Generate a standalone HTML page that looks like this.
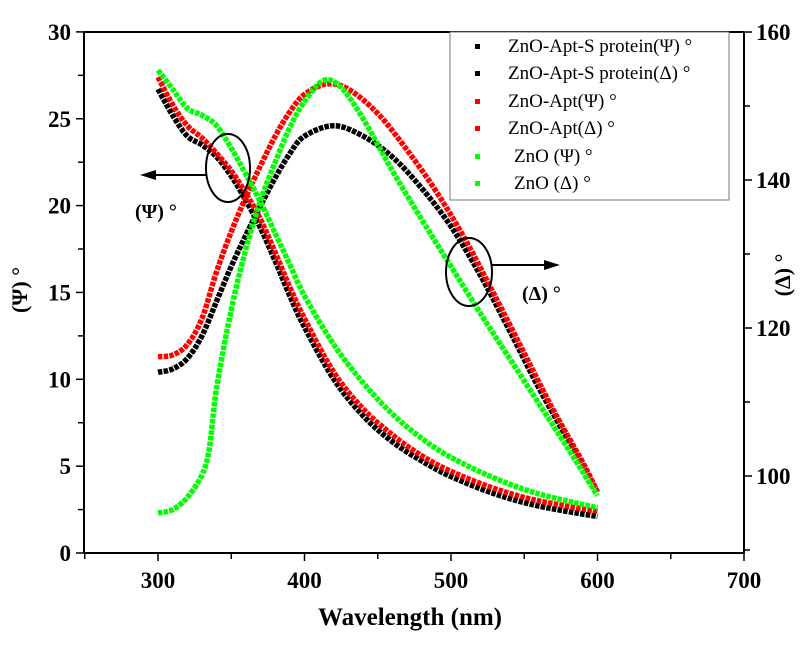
<!DOCTYPE html>
<html><head><style>body{margin:0;background:#fff}svg{display:block}</style></head><body>
<svg id="s" width="809" height="655" xmlns="http://www.w3.org/2000/svg" font-family="Liberation Serif, serif">
<rect width="809" height="655" fill="#fff"/>
<g id="curves"></g>
<g stroke="#000" stroke-width="2" fill="none">
<line x1="84" y1="32" x2="744" y2="32"/>
<line x1="84" y1="553" x2="744" y2="553"/>
<line x1="84" y1="32" x2="84" y2="553"/>
<line x1="744" y1="32" x2="744" y2="553"/>
</g>
<g id="ticks" stroke="#000" stroke-width="1.5"></g>
<g font-weight="bold" font-size="23" text-anchor="end" id="ly"></g>
<g font-weight="bold" font-size="23" text-anchor="start" id="ry"></g>
<g font-weight="bold" font-size="23" text-anchor="middle" id="bx"></g>
<text x="410" y="625" font-size="25" font-weight="bold" text-anchor="middle">Wavelength (nm)</text>
<text transform="translate(27,290) rotate(-90)" font-size="22" font-weight="bold" text-anchor="middle">(Ψ) °</text>
<text transform="translate(790,275) rotate(-90)" font-size="22" font-weight="bold" text-anchor="middle">(Δ) °</text>
<rect x="450" y="32" width="279" height="168" fill="#fff" stroke="#777" stroke-width="1"/>
<g font-size="19">
<rect x="475" y="44" width="5" height="5" fill="#000"/><text x="508" y="52">ZnO-Apt-S protein(Ψ) °</text>
<rect x="475" y="71" width="5" height="5" fill="#000"/><text x="508" y="79">ZnO-Apt-S protein(Δ) °</text>
<rect x="475" y="99" width="5" height="5" fill="#f00"/><text x="508" y="107">ZnO-Apt(Ψ) °</text>
<rect x="475" y="126" width="5" height="5" fill="#f00"/><text x="508" y="134">ZnO-Apt(Δ) °</text>
<rect x="475" y="154" width="5" height="5" fill="#0f0"/><text x="514" y="162">ZnO (Ψ) °</text>
<rect x="475" y="181" width="5" height="5" fill="#0f0"/><text x="514" y="189">ZnO (Δ) °</text>
</g>
<g stroke="#000" stroke-width="2" fill="none">
<ellipse cx="228" cy="168" rx="22" ry="34"/>
<ellipse cx="469" cy="272" rx="23" ry="34"/>
<line x1="206" y1="175" x2="150" y2="175"/>
<line x1="491" y1="265" x2="548" y2="265"/>
</g>
<polygon points="140,175 156,170 156,180" fill="#000"/>
<polygon points="560,265 544,260 544,270" fill="#000"/>
<text x="135" y="218" font-size="20" font-weight="bold">(Ψ) °</text>
<text x="522" y="300" font-size="20" font-weight="bold">(Δ) °</text>
</svg>
<script>
const X=w=>158+(w-300)*1.465, Y=v=>553-v*17.37;
const D={
bP:[[300,26.7],[310,25.2],[320,24.0],[330,23.5],[340,22.8],[350,21.7],[360,20.3],[370,18.7],[380,16.8],[390,14.8],[400,13.0],[420,10.0],[440,7.9],[460,6.4],[480,5.3],[500,4.4],[530,3.4],[560,2.7],[600,2.1]],
rP:[[300,27.4],[310,25.8],[320,24.6],[330,23.9],[340,23.0],[350,22.0],[360,20.7],[370,19.2],[380,17.3],[390,15.3],[400,13.5],[420,10.4],[440,8.3],[460,6.8],[480,5.6],[500,4.7],[530,3.7],[560,3.0],[600,2.4]],
gP:[[300,27.8],[310,26.7],[320,25.6],[330,25.2],[340,24.6],[350,23.3],[360,21.8],[370,20.2],[380,18.4],[390,16.6],[400,14.8],[420,12.0],[440,9.8],[460,8.0],[480,6.6],[500,5.5],[530,4.3],[560,3.4],[600,2.6]],
bD:[[300,10.4],[310,10.6],[320,11.2],[330,12.5],[340,14.5],[350,16.5],[360,18.3],[370,20.0],[380,21.6],[390,23.0],[400,24.0],[420,24.6],[440,24.0],[460,22.8],[480,21.0],[500,18.8],[520,16.0],[540,12.8],[560,9.5],[580,6.5],[600,3.5]],
rD:[[300,11.3],[310,11.4],[320,12.0],[330,13.5],[340,16.2],[350,18.5],[360,20.5],[370,22.3],[380,24.0],[390,25.4],[400,26.4],[415,27.0],[430,26.7],[450,25.3],[470,23.2],[490,20.8],[510,18.0],[530,14.8],[550,11.5],[570,8.2],[590,5.2],[600,3.5]],
gD:[[300,2.3],[310,2.5],[320,3.2],[330,4.5],[335,6.0],[340,9.5],[350,14.0],[360,17.5],[370,20.3],[380,22.5],[390,24.5],[400,26.0],[413,27.2],[425,26.8],[440,25.0],[460,22.0],[480,19.2],[500,16.5],[520,13.8],[540,11.2],[560,8.6],[580,6.0],[600,3.3]]};
const C={bP:'#000',bD:'#000',rP:'#f00',rD:'#f00',gP:'#0f0',gD:'#0f0'};
let h='';
for(const k of ['bD','bP','rD','rP','gD','gP']){
 const p=D[k].map(([w,v])=>[X(w),Y(v)]);let d='M'+p[0];
 for(let i=0;i<p.length-1;i++){const p0=p[i-1]||p[i],p1=p[i],p2=p[i+1],p3=p[i+2]||p2;
  d+=` C${p1[0]+(p2[0]-p0[0])/6},${p1[1]+(p2[1]-p0[1])/6} ${p2[0]-(p3[0]-p1[0])/6},${p2[1]-(p3[1]-p1[1])/6} ${p2}`;}
 h+=`<path d="${d}" fill="none" stroke="${C[k]}" stroke-width="5.5" stroke-dasharray="4.5 1.2"/>`;}
document.getElementById('curves').innerHTML=h;
let t='',ly='',ry='',bx='';
for(let v=0;v<=30;v+=2.5){const y=Y(v);t+=`<line x1="${v%5?78:76}" y1="${y}" x2="84" y2="${y}"/>`;if(v%5==0)ly+=`<text x="71" y="${y+8}">${v}</text>`;}
for(let v=90;v<=160;v+=10){const y=32+(160-v)*7.4;t+=`<line x1="744" y1="${y}" x2="${v%20?750:752}" y2="${y}"/>`;if(v%20==0)ry+=`<text x="756" y="${y+8}">${v}</text>`;}
for(let w=250;w<=700;w+=50){const x=X(w);t+=`<line x1="${x}" y1="553" x2="${x}" y2="${w%100?559:561}"/>`;if(w%100==0)bx+=`<text x="${x}" y="588">${w}</text>`;}
document.getElementById('ticks').innerHTML=t;document.getElementById('ly').innerHTML=ly;document.getElementById('ry').innerHTML=ry;document.getElementById('bx').innerHTML=bx;
</script>
</body></html>
